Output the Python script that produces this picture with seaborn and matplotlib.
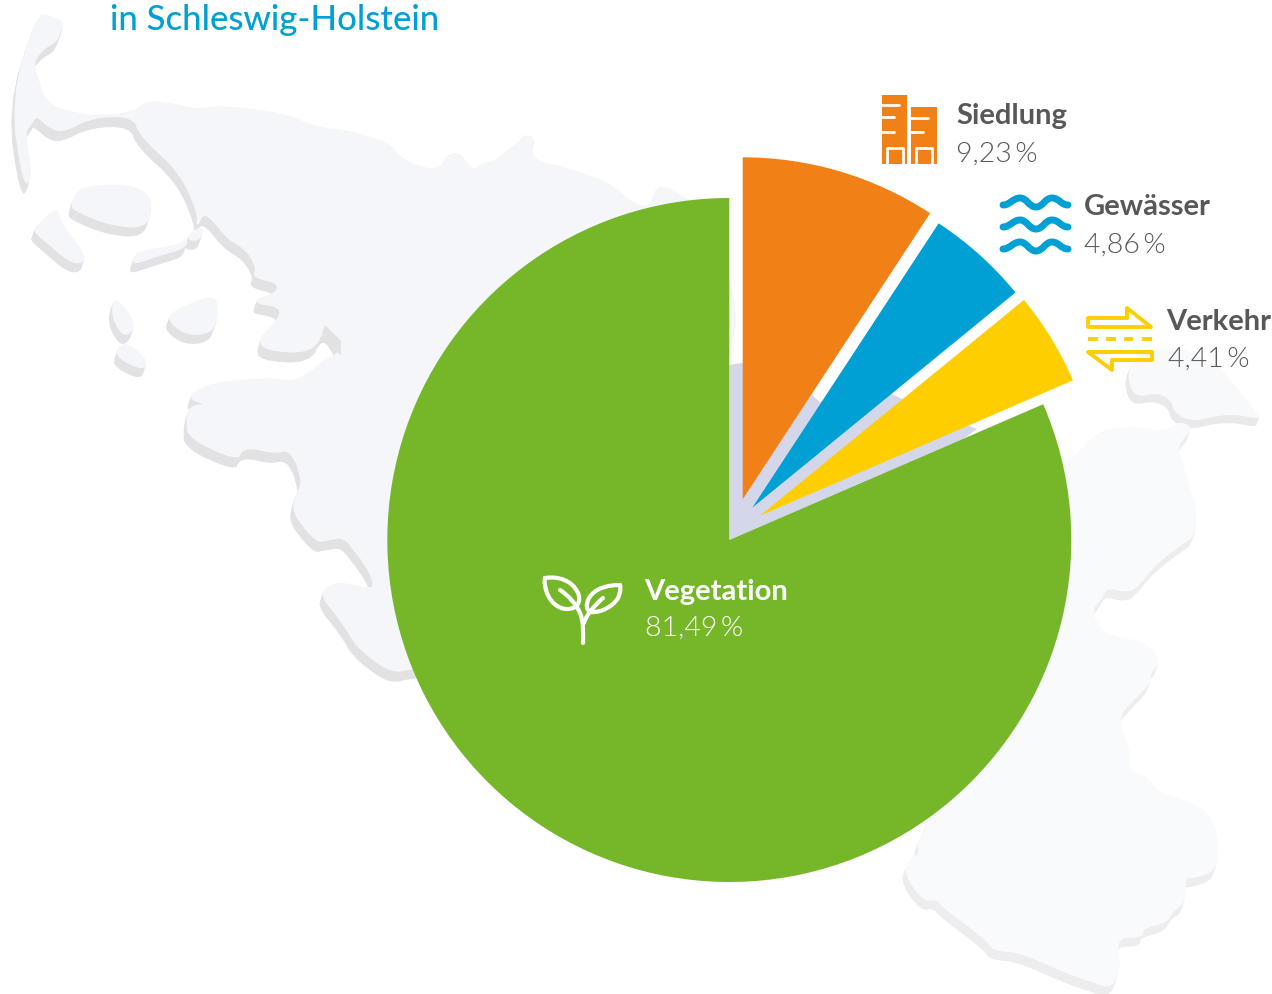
import matplotlib
matplotlib.use("Agg")
import matplotlib.pyplot as plt
from matplotlib.patches import Polygon, PathPatch, Rectangle
from matplotlib.path import Path
import seaborn as sns

# values from the chart, clockwise from 12 o'clock
categories = ["Siedlung", "Gewässer", "Verkehr", "Vegetation"]
shares = [9.23, 4.86, 4.41, 81.49]
share_labels = ["9,23\u2009%", "4,86\u2009%", "4,41\u2009%", "81,49\u2009%"]
title_text = "in Schleswig-Holstein"

colors = ["#F18116", "#009FD4", "#FFCE00", "#76B729"]
lavender = "#D4D7E9"
grey_text = "#58585A"

W, H = 1272, 995


def Y(y):
    # picture row to axes y
    return H - y - 1


def up(pts):
    return [(x, Y(y)) for x, y in pts]


def smooth(pts, rounds=2):
    # corner cutting, the coast in the picture has no hard corners
    for _ in range(rounds):
        out = []
        for i, (x0, y0) in enumerate(pts):
            x1, y1 = pts[(i + 1) % len(pts)]
            out.append((0.75 * x0 + 0.25 * x1, 0.75 * y0 + 0.25 * y1))
            out.append((0.25 * x0 + 0.75 * x1, 0.25 * y0 + 0.75 * y1))
        pts = out
    return pts


# background map outlines, traced in picture pixels
west_land = [
    (37, 15), (50, 16), (64, 22), (60, 32), (56, 42), (44, 48), (33, 62), (38, 80), (44, 98), (55, 108),
    (75, 113), (95, 116), (133, 113), (147, 101), (173, 104), (197, 110), (217, 106), (257, 110), (287, 115),
    (317, 128), (350, 131), (393, 145), (397, 157), (427, 170), (442, 167), (447, 155), (460, 153), (473, 172),
    (483, 163), (493, 163), (505, 153), (518, 143), (525, 135), (535, 138), (530, 150), (537, 162), (563, 167),
    (610, 183), (630, 202), (647, 208), (653, 200), (658, 185), (677, 193), (700, 208), (728, 273), (737, 320),
    (730, 345), (700, 500), (600, 640), (413, 668), (397, 672), (383, 667), (357, 647), (343, 623), (320, 595),
    (330, 585), (343, 583), (373, 590), (373, 580), (367, 567), (352, 547), (343, 537), (327, 540), (317, 542),
    (298, 520), (293, 507), (297, 493), (302, 483), (298, 467), (295, 460), (288, 450), (273, 453), (253, 448),
    (242, 450), (237, 460), (188, 438), (187, 418), (190, 407), (205, 404), (222, 407), (205, 404), (190, 399),
    (193, 393), (213, 383), (270, 378), (293, 382), (310, 373), (322, 362), (338, 354), (338, 345), (325, 327),
    (312, 353), (263, 350), (260, 337), (277, 322), (282, 307), (250, 302), (277, 293), (278, 283), (253, 277),
    (257, 268), (247, 250), (227, 238), (213, 220), (203, 213), (197, 227), (198, 213), (180, 172), (141, 137),
    (133, 116), (93, 117), (63, 132), (50, 128), (36, 115), (33, 122), (24, 132), (32, 175), (24, 188), (11, 100),
]
east_land = [
    (925, 833), (917, 843), (920, 853), (913, 858), (905, 867), (910, 883), (925, 901), (937, 899), (943, 907),
    (987, 940), (993, 950), (1020, 952), (1067, 973), (1093, 982), (1112, 988), (1120, 967), (1117, 950),
    (1120, 937), (1142, 937), (1143, 928), (1167, 922), (1173, 910), (1185, 903), (1185, 877), (1193, 878),
    (1218, 870), (1217, 830), (1203, 808), (1180, 800), (1157, 792), (1147, 777), (1128, 770), (1130, 752),
    (1117, 718), (1133, 700), (1150, 683), (1150, 672), (1160, 663), (1147, 643), (1120, 638), (1103, 633),
    (1090, 612), (1102, 598), (1107, 587), (1127, 592), (1137, 587), (1153, 567), (1173, 550), (1202, 530),
    (1180, 457), (1177, 445), (1193, 428), (1180, 422), (1173, 428), (1152, 433), (1150, 428), (1110, 428),
    (1093, 437), (1083, 450), (1063, 463), (1000, 600),
]
islands = [
    [(77, 192), (90, 186), (127, 185), (147, 193), (152, 207), (145, 228), (110, 225), (73, 210), (72, 203)],
    [(35, 228), (57, 207), (60, 222), (85, 255), (82, 263), (70, 262), (50, 245), (35, 232)],
    [(137, 252), (180, 245), (187, 238), (185, 248), (160, 255), (137, 263), (133, 262)],
    [(190, 233), (203, 227), (200, 240), (188, 240)],
    [(115, 298), (128, 312), (135, 327), (125, 337), (115, 323), (112, 310)],
    [(118, 347), (128, 343), (147, 360), (143, 370), (118, 358)],
    [(170, 313), (207, 297), (217, 300), (217, 320), (210, 333), (188, 335), (170, 323)],
]
fehmarn = [
    (1132, 363), (1128, 377), (1135, 397), (1157, 392), (1172, 400), (1175, 413), (1193, 421), (1217, 415),
    (1237, 414), (1262, 419), (1253, 410), (1222, 370), (1210, 362), (1180, 348), (1145, 352),
]
# outer limit of the lavender backing (it follows the coast, not a circle)
backing_clip = [
    (729, 540), (729, 365), (742, 363), (780, 375), (812, 395), (820, 402), (860, 385), (890, 393), (900, 398),
    (967, 425), (977, 429), (800, 560),
]

sns.set_theme(style="white")
plt.rcParams["font.family"] = ["Lato", "DejaVu Sans"]

fig = plt.figure(figsize=(W / 100, H / 100), dpi=100)
ax = fig.add_axes([0, 0, 1, 1])


def land(pts, face, shadow, dx=-3, dy=10):
    pts = smooth(pts)
    for k in range(1, 6):
        f = k / 5
        shifted = [(x + dx * f, y + dy * f) for x, y in pts]
        ax.add_patch(Polygon(up(shifted), closed=True, fc=shadow, ec=shadow, lw=1, joinstyle="round", zorder=1))
    ax.add_patch(Polygon(up(pts), closed=True, fc=face, ec=face, lw=1, joinstyle="round", zorder=2))


land(west_land, "#F5F6FA", "#E2E2E5")
for isl in islands:
    land(isl, "#F5F6FA", "#E2E2E5", dy=9)
land(east_land, "#F9FAFC", "#EDEDEF", dy=9)
land(fehmarn, "#F8F9FB", "#E9E9EB", dy=8)
# inlet wall on the west coast
ax.add_patch(Polygon(up([(325, 325), (341, 341), (341, 355), (336, 352), (322, 333)]), fc="#E2E2E5", ec="none", zorder=2))

# inner lavender sector behind the exploded slices
cx, cy = 729.3, Y(540)
back, _ = ax.pie([sum(shares[:3]), shares[3]], radius=300, center=(cx, cy), startangle=90, counterclock=False,
                 colors=[lavender, "none"], wedgeprops={"linewidth": 0, "zorder": 3})

wedges, _ = ax.pie(shares, radius=342, center=(cx, cy), startangle=90, counterclock=False, colors=colors,
                   wedgeprops={"linewidth": 0, "zorder": 4})
# apex and radius of each pulled-out slice
apexes = [(742.7, 499.3), (752.3, 507.7), (760, 515.7)]
radii = [342, 340, 341]
for w, (a_x, a_y), r in zip(wedges, apexes, radii):
    w.set_center((a_x, Y(a_y)))
    w.set_radius(r)

ax.set_xlim(0, W)
ax.set_ylim(0, H)
ax.set_aspect("equal")
ax.axis("off")

# pie turns clipping off on its wedges
clip = up(backing_clip)
back[0].set_clip_on(True)
back[0].set_clip_path(Path(clip + clip[:1], closed=True), ax.transData)

# texts
ax.text(110, H - 30, title_text, color="#009FD4", fontsize=25, fontweight="medium", va="baseline", zorder=6)
name_pos = [(956, 124), (1084, 215), (1166, 330), (644, 600)]
value_pos = [(956, 162), (1084, 253), (1168, 367), (645, 636)]
text_colors = [grey_text, grey_text, grey_text, "white"]
for name, val, np_, vp, tc in zip(categories, share_labels, name_pos, value_pos, text_colors):
    ax.text(np_[0], H - np_[1], name, color=tc, fontsize=21, fontweight="bold", va="baseline", zorder=6)
    ax.text(vp[0], H - vp[1], val, color=tc, fontsize=20.5, fontweight=300, va="baseline", zorder=6)

# building icon
orange = colors[0]
ax.add_patch(Rectangle((882, Y(164)), 25, 69, fc=orange, ec="none", zorder=5))
ax.add_patch(Rectangle((911, Y(164)), 26, 57, fc=orange, ec="none", zorder=5))
for x0, x1, y in [(882, 899, 105), (882, 894, 117), (882, 894, 132), (911, 928, 118), (911, 923, 132)]:
    ax.plot([x0, x1], [Y(y), Y(y)], color="white", lw=2, zorder=6, solid_capstyle="round")
for x0 in [887, 916]:
    ax.plot([x0, x0, x0 + 16, x0 + 16], [Y(164), Y(148), Y(148), Y(164)], color="white", lw=2, zorder=6)

# wave icon
blue = colors[1]
for y in [205, 227, 249]:
    verts = up([(1003, y), (1010, y), (1013, y - 7), (1020, y - 7), (1027, y - 7), (1029, y + 2), (1036, y + 2),
                (1043, y + 2), (1045, y - 7), (1052, y - 7), (1059, y - 7), (1061, y), (1068, y)])
    codes = [Path.MOVETO] + [Path.CURVE4] * 12
    ax.add_patch(PathPatch(Path(verts, codes), fc="none", ec=blue, lw=5, capstyle="round", zorder=5))

# traffic icon
yellow = colors[2]
ax.add_patch(Polygon(up([(1088, 318), (1127, 318), (1127, 308), (1151, 327), (1088, 327)]), closed=True, fc="none",
                     ec=yellow, lw=2.8, joinstyle="round", zorder=5))
ax.add_patch(Polygon(up([(1152, 352), (1152, 360), (1112, 360), (1112, 370), (1088, 352)]), closed=True, fc="none",
                     ec=yellow, lw=2.8, joinstyle="round", zorder=5))
for x0, x1 in [(1088, 1098), (1106, 1116), (1124, 1133), (1142, 1152)]:
    ax.plot([x0, x1], [Y(339), Y(339)], color=yellow, lw=2.8, zorder=5, solid_capstyle="butt")


# sprout icon
def curve(pts, lw=3):
    codes = [Path.MOVETO] + [Path.CURVE4] * (len(pts) - 1)
    ax.add_patch(PathPatch(Path(up(pts), codes), fc="none", ec="white", lw=lw, capstyle="round", joinstyle="round",
                           zorder=6))


curve([(545, 578), (558, 576), (572, 580), (578, 593), (581, 601), (578, 606), (573, 608), (562, 612), (551, 604),
       (547, 593), (545, 587), (544, 582), (545, 578)])
curve([(620, 585), (608, 585), (595, 588), (589, 598), (585, 606), (587, 610), (590, 612), (602, 613), (613, 606),
       (618, 598), (620, 593), (621, 589), (620, 585)])
curve([(583, 643), (583, 632), (584, 623), (580, 613), (576, 604), (568, 595), (560, 590)])
curve([(584, 623), (586, 615), (595, 605), (603, 598)])

fig.savefig("out.png", dpi=100, facecolor="white")
